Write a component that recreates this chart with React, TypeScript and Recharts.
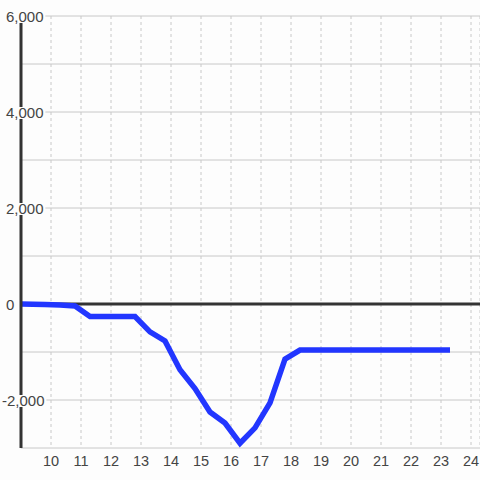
import { LineChart, Line, XAxis, YAxis, CartesianGrid, ReferenceLine } from 'recharts';

const hours = [9, 9.8, 10.3, 10.8, 11.3, 11.8, 12.3, 12.8, 13.3, 13.8, 14.3, 14.8, 15.3, 15.8, 16.3, 16.8, 17.3, 17.8, 18.3, 18.8, 19.3, 19.8, 20.3, 20.8, 21.3, 21.8, 22.3, 22.8, 23.3];
const balance = [0, -10, -20, -40, -260, -260, -260, -260, -580, -770, -1370, -1760, -2250, -2480, -2900, -2580, -2060, -1150, -960, -960, -960, -960, -960, -960, -960, -960, -960, -960, -960];

const xTicks = [9, 10, 11, 12, 13, 14, 15, 16, 17, 18, 19, 20, 21, 22, 23, 24];
const yTicks = [-3000, -2000, -1000, 0, 1000, 2000, 3000, 4000, 5000, 6000];
const yLabelled = [-2000, 0, 2000, 4000, 6000];

const BG = '#fdfdfd';
const TEXT = '#444';

const data = hours.map((h, i) => ({ x: h, v: balance[i] }));

const fmt = (v: number) => v.toLocaleString('en-US');

const textWidth = (s: string) =>
  s.split('').reduce((w, c) => w + (c === ',' ? 4.2 : c === '-' ? 5 : 8.3), 0);

const YTick = ({ y, payload }: any) => {
  if (!yLabelled.includes(payload.value)) return null;
  const label = fmt(payload.value);
  const w = textWidth(label);
  const x0 = payload.value < 0 ? 2 : 6;
  return (
    <g>
      <rect x={x0 - 1} y={y - 5} width={w + 3} height={12} fill={BG} />
      <text x={x0} y={y} dominantBaseline="central" textAnchor="start" fontSize={15} fill={TEXT}>
        {label}
      </text>
    </g>
  );
};

const XTick = ({ x, y, payload }: any) => {
  if (payload.value === 9) return null;
  return (
    <text x={x} y={y + 5} textAnchor="middle" dominantBaseline="central" fontSize={14.5} fill={TEXT}>
      {payload.value}
    </text>
  );
};

export default function App() {
  return (
    <div style={{ width: 480, height: 480, background: BG, fontFamily: '"Liberation Sans", Arial, sans-serif' }}>
      <style>{`body{margin:0}`}</style>
      <LineChart width={480} height={480} data={data} margin={{ top: 16, right: 0, bottom: 2, left: 0 }}>
        <CartesianGrid horizontal vertical={false} stroke="#c8c8c8" />
        <CartesianGrid horizontal={false} vertical stroke="#c8c8c8" strokeDasharray="3 3" />
        <XAxis
          type="number"
          dataKey="x"
          domain={[9, 24.3]}
          ticks={xTicks}
          interval={0}
          height={30}
          axisLine={false}
          tickLine={false}
          tick={<XTick />}
        />
        <YAxis
          type="number"
          domain={[-3000, 6000]}
          ticks={yTicks}
          interval={0}
          width={21}
          axisLine={{ stroke: '#333', strokeWidth: 3 }}
          tickLine={false}
          tick={<YTick />}
        />
        <ReferenceLine y={0} stroke="#333" strokeWidth={3} />
        <Line
          type="linear"
          dataKey="v"
          stroke="#2236ff"
          strokeWidth={5.5}
          dot={false}
          activeDot={false}
          isAnimationActive={false}
        />
      </LineChart>
    </div>
  );
}
